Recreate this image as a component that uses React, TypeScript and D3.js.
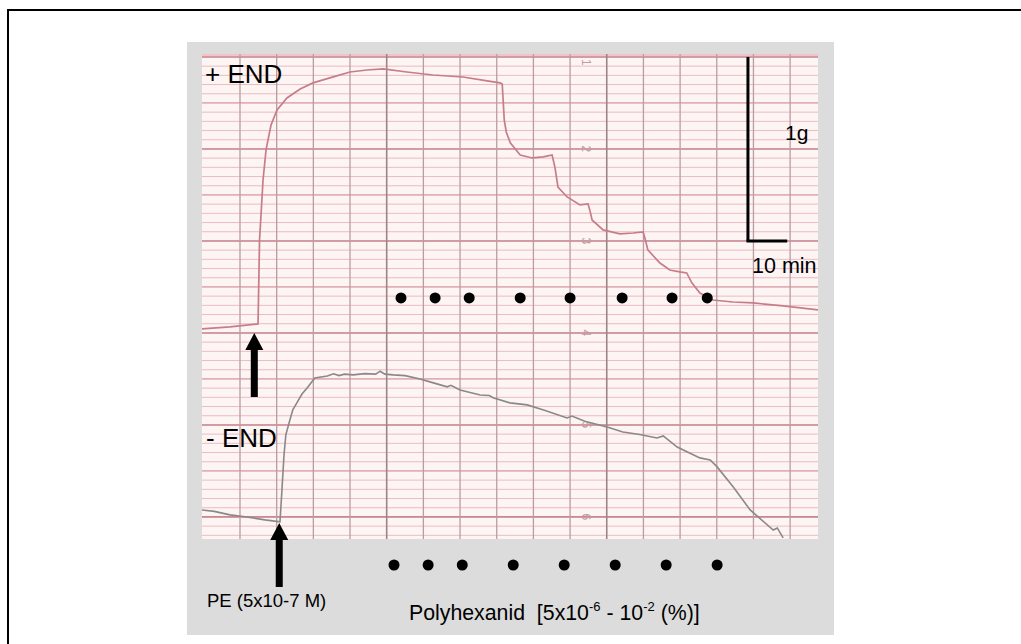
import React from "react";
import * as d3 from "d3";

// Time (min) and force (g) samples
const plusEndT = [-0.35, 7.28, 14.92, 15.33, 16.28, 17.1, 18.46, 20.1, 22.8, 26.4, 29.9, 34.5, 40.0, 44.6, 49.0, 55.5, 62.6, 70.8, 77.4, 80.9, 81.5, 82.05, 82.6, 83.7, 86.4, 89.7, 92.7, 95.1, 95.9, 96.7, 99.2, 102.7, 104.9, 105.5, 106.0, 109.0, 113.6, 117.2, 119.9, 120.4, 121.2, 124.5, 127.2, 129.9, 131.8, 133.2, 135.4, 138.9, 144.4, 149.9, 158.1, 167.6];
const plusEndG = [1.022, 1.033, 1.049, 1.505, 1.83, 1.995, 2.13, 2.212, 2.277, 2.326, 2.359, 2.386, 2.418, 2.429, 2.435, 2.418, 2.402, 2.391, 2.37, 2.359, 2.353, 2.158, 2.092, 2.033, 1.967, 1.951, 1.957, 1.967, 1.897, 1.793, 1.739, 1.696, 1.701, 1.658, 1.614, 1.56, 1.538, 1.543, 1.549, 1.516, 1.451, 1.38, 1.342, 1.332, 1.326, 1.272, 1.217, 1.179, 1.168, 1.163, 1.147, 1.125];

const minusEndT = [-0.35, 3.0, 7.28, 11.9, 16.8, 20.9, 21.44, 22.0, 22.5, 23.6, 24.4, 25.5, 26.9, 28.3, 30.4, 33.8, 35.5, 37.0, 38.5, 40.8, 44.0, 47.0, 48.2, 49.5, 51.8, 55.0, 59.1, 62.5, 66.5, 67.5, 70.0, 75.5, 78.0, 79.0, 83.6, 88.3, 93.0, 99.2, 100.5, 104.0, 110.1, 114.4, 119.0, 123.7, 125.4, 129.2, 135.4, 138.2, 140.1, 144.5, 149.1, 155.4, 156.5, 158.1];
const minusEndG = [0.038, 0.03, 0.011, 0.0, -0.016, -0.027, 0.147, 0.337, 0.446, 0.527, 0.582, 0.62, 0.668, 0.701, 0.755, 0.766, 0.778, 0.768, 0.776, 0.772, 0.779, 0.776, 0.792, 0.776, 0.772, 0.768, 0.75, 0.73, 0.707, 0.715, 0.69, 0.663, 0.66, 0.648, 0.62, 0.609, 0.58, 0.538, 0.548, 0.52, 0.489, 0.462, 0.448, 0.429, 0.44, 0.38, 0.321, 0.31, 0.272, 0.163, 0.038, -0.071, -0.06, -0.114];

// Addition markers (min)
const upperDoseT = [53.9, 63.2, 72.5, 86.4, 100.0, 114.2, 127.8, 137.4];
const lowerDoseT = [52.0, 61.3, 70.6, 84.5, 98.4, 112.3, 126.2, 140.1];
const peUpperT = 13.9;
const peLowerT = 20.7;

const paperDigits = ["1", "2", "3", "4", "5", "6"];
const paperDigitG = [2.47, 2.0, 1.5, 1.0, 0.5, 0.0];

const FONT = "'Liberation Sans', Arial, Helvetica, sans-serif";

export default function App() {
  const x = d3.scaleLinear().domain([-0.36, 167.6]).range([202, 818]);
  const y = d3.scaleLinear().domain([-0.12, 2.516]).range([539, 54]);

  const vTicks = d3.range(10, 161, 10);
  const minorH = d3.range(0, 53).map((i) => -0.1 + i * 0.05).filter((v) => v > -0.12 && v < 2.516);
  const majorH = [0, 0.5, 1.0, 1.5, 2.0, 2.5];
  const medH = [0.25, 0.75, 1.25, 1.75, 2.25];

  const line = d3
    .line<[number, number]>()
    .x((d) => x(d[0]))
    .y((d) => y(d[1]))
    .curve(d3.curveLinear);

  const plusData: [number, number][] = plusEndT.map((t, i) => [t, plusEndG[i]]);
  const minusData: [number, number][] = minusEndT.map((t, i) => [t, minusEndG[i]]);

  const arrow = (cx: number, tip: number, base: number, end: number) => {
    const hw = 9;
    const sw = 3.5;
    return `M${cx},${tip} L${cx + hw},${base} L${cx + sw},${base} L${cx + sw},${end} L${cx - sw},${end} L${cx - sw},${base} L${cx - hw},${base} Z`;
  };

  return (
    <svg
      width={1021}
      height={644}
      style={{ position: "absolute", left: 0, top: 0, background: "#fff" }}
      fontFamily={FONT}
    >
      <rect x={8} y={10} width={1100} height={700} fill="#fff" stroke="#000" strokeWidth={2} />
      <rect x={187} y={42} width={647} height={593} fill="#dcdcdc" />
      <defs>
        <clipPath id="paper">
          <rect x={202} y={54} width={616} height={485} />
        </clipPath>
      </defs>
      <rect x={202} y={54} width={616} height={485} fill="#fdf4f4" />
      <g clipPath="url(#paper)">
        {minorH.map((v, i) => (
          <line key={"mh" + i} x1={202} x2={818} y1={y(v)} y2={y(v)} stroke="#ecbcc0" strokeWidth={1} />
        ))}
        {medH.map((v, i) => (
          <line key={"md" + i} x1={202} x2={818} y1={y(v)} y2={y(v)} stroke="#dfa3a9" strokeWidth={1.2} />
        ))}
        {majorH.map((v, i) => (
          <line key={"mj" + i} x1={202} x2={818} y1={y(v)} y2={y(v)} stroke="#c98790" strokeWidth={1.6} />
        ))}
        <line x1={202} x2={818} y1={55} y2={55} stroke="#f0c4c8" strokeWidth={2} />
        {vTicks.map((t) => (
          <line
            key={"v" + t}
            x1={x(t)}
            x2={x(t)}
            y1={54}
            y2={539}
            stroke={t === 50 || t === 110 ? "#9c8488" : "#bb9ca1"}
            strokeWidth={t === 50 || t === 110 ? 1.6 : 1.3}
          />
        ))}
        {paperDigits.map((d, i) => (
          <text
            key={"pd" + i}
            transform={`translate(${x(104.4)},${y(paperDigitG[i])}) rotate(90)`}
            fontSize={12}
            fill="#c29aa0"
            textAnchor="middle"
            dy="0.35em"
          >
            {d}
          </text>
        ))}
        <path d={line(plusData) || ""} fill="none" stroke="#c77d88" strokeWidth={1.7} />
        <path d={line(minusData) || ""} fill="none" stroke="#8a8888" strokeWidth={1.6} />
      </g>

      {/* scale bar */}
      <line x1={x(148.5)} x2={x(148.5)} y1={y(2.5)} y2={y(1.5)} stroke="#000" strokeWidth={3} />
      <line x1={x(148.5) - 1.5} x2={x(159.2)} y1={y(1.5)} y2={y(1.5)} stroke="#000" strokeWidth={3} />
      <text x={785} y={140} fontSize={21} fill="#000">1g</text>
      <text x={752} y={273} fontSize={21.5} fill="#000">10 min</text>

      <text x={205} y={83} fontSize={26} fill="#000">+ END</text>
      <text x={206} y={447} fontSize={26} fill="#000">- END</text>

      <path d={arrow(x(peUpperT), 333, 350, 397)} fill="#000" />
      <path d={arrow(x(peLowerT), 523, 540, 587)} fill="#000" />

      {upperDoseT.map((t, i) => (
        <circle key={"ud" + i} cx={x(t)} cy={y(1.19)} r={5.5} fill="#000" />
      ))}
      {lowerDoseT.map((t, i) => (
        <circle key={"ld" + i} cx={x(t)} cy={565} r={5.5} fill="#000" />
      ))}

      <text x={207} y={607} fontSize={18.5} fill="#000">PE (5x10-7 M)</text>
      <text x={409} y={620} fontSize={21.3} fill="#000" style={{ whiteSpace: "pre" }}>
        <tspan>{"Polyhexanid  [5x10"}</tspan>
        <tspan fontSize={13} dy={-9}>-6</tspan>
        <tspan dy={9}>{" - 10"}</tspan>
        <tspan fontSize={13} dy={-9}>-2</tspan>
        <tspan dy={9}>{" (%)]"}</tspan>
      </text>
    </svg>
  );
}
